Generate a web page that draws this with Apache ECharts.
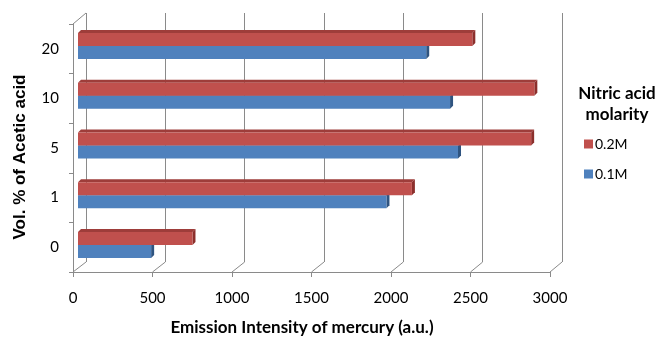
<!DOCTYPE html>
<html>
<head>
<meta charset="utf-8">
<script src="https://cdn.jsdelivr.net/npm/echarts@6/dist/echarts.min.js"></script>
<style>
html,body{margin:0;padding:0;background:#fff;}
#c{width:658px;height:343px;}
</style>
</head>
<body>
<div id="c"></div>
<script>
// ---- data ----
const categories = ['0', '1', '5', '10', '20'];
const seriesNames = ['0.2M', '0.1M'];
const values02M = [720, 2100, 2850, 2870, 2480];
const values01M = [460, 1940, 2390, 2340, 2190];
const xTicks = [0, 500, 1000, 1500, 2000, 2500, 3000];
const xTitle = 'Emission Intensity of mercury (a.u.)';
const yTitle = 'Vol. % of Acetic acid';
const legendTitle = 'Nitric acid\nmolarity';

// ---- style ----
const FONT = 'Lato';
const GRID_COLOR = '#8a8a8a';
const BAR_H = 13;
const DEPTH = 3;
const XMIN = 0, XMAX = 3000, XINT = 500;

const chart = echarts.init(document.getElementById('c'), null, {renderer: 'canvas'});

function makeRender(upper, face, top, side) {
  return function (params, api) {
    const cat = api.value(1), val = api.value(0);
    const p0 = api.coord([0, cat]);
    const p1 = api.coord([val, cat]);
    const yTop = upper ? p0[1] - BAR_H : p0[1];
    const yBot = yTop + BAR_H;
    const x0 = p0[0], x1 = p1[0], d = DEPTH;
    return {
      type: 'group',
      children: [
        {type: 'polygon', shape: {points: [[x0, yTop], [x1, yTop], [x1 + d, yTop - d], [x0 + d, yTop - d]]}, style: {fill: top}},
        {type: 'polygon', shape: {points: [[x1, yTop], [x1 + d, yTop - d], [x1 + d, yBot - d], [x1, yBot]]}, style: {fill: side}},
        {type: 'rect', shape: {x: x0, y: yTop, width: x1 - x0, height: BAR_H}, style: {fill: face}}
      ]
    };
  };
}

const option = {
  animation: false,
  backgroundColor: '#ffffff',
  textStyle: {fontFamily: FONT},
  title: {
    text: legendTitle,
    left: 617, top: 83, textAlign: 'center', padding: 0,
    textStyle: {fontFamily: FONT, fontSize: 17, fontWeight: 'bold', color: '#000', lineHeight: 21}
  },
  legend: {
    data: seriesNames,
    orient: 'vertical',
    left: 584, top: 137, padding: 0,
    itemWidth: 9, itemHeight: 9, itemGap: 16,
    icon: 'rect',
    textStyle: {fontFamily: FONT, fontSize: 14, color: '#000', padding: [0, 0, 0, -3]},
    selectedMode: false
  },
  grid: [
    {left: 86, right: 96, top: 13, bottom: 81},   // back wall
    {left: 73, right: 108, top: 24, bottom: 71},  // front axes
    {left: 78, right: 103, top: 21, bottom: 73}   // bars
  ],
  xAxis: [
    {gridIndex: 0, type: 'value', min: XMIN, max: XMAX, interval: XINT,
     axisLine: {show: false}, axisTick: {show: false}, axisLabel: {show: false},
     splitLine: {show: true, lineStyle: {color: GRID_COLOR, width: 1}}},
    {gridIndex: 1, type: 'value', min: XMIN, max: XMAX, interval: XINT,
     axisLine: {show: true, lineStyle: {color: GRID_COLOR}},
     axisTick: {show: true, length: 5, lineStyle: {color: GRID_COLOR}},
     axisLabel: {show: true, margin: 19, fontSize: 15, color: '#000', fontFamily: FONT,
       formatter: v => String(v)},
     splitLine: {show: false}},
    {gridIndex: 2, type: 'value', min: XMIN, max: XMAX, show: false}
  ],
  yAxis: [
    {gridIndex: 0, type: 'category', data: categories, show: false},
    {gridIndex: 1, type: 'category', data: categories,
     axisLine: {show: true, lineStyle: {color: GRID_COLOR}},
     axisTick: {show: true, length: 4, lineStyle: {color: GRID_COLOR}},
     axisLabel: {margin: 14, fontSize: 15, color: '#000', fontFamily: FONT}},
    {gridIndex: 2, type: 'category', data: categories, show: false}
  ],
  series: [
    {name: seriesNames[0], type: 'custom', xAxisIndex: 2, yAxisIndex: 2, z: 4,
     itemStyle: {color: '#C0504D'},
     renderItem: makeRender(true, '#C0504D', '#9E3D3A', '#8C2F2C'),
     data: values02M.map((v, i) => [v, i]), silent: true},
    {name: seriesNames[1], type: 'custom', xAxisIndex: 2, yAxisIndex: 2, z: 3,
     itemStyle: {color: '#4F81BD'},
     renderItem: makeRender(false, '#4F81BD', '#3E6A9E', '#2F5480'),
     data: values01M.map((v, i) => [v, i]), silent: true}
  ]
};
chart.setOption(option);

// 3-D frame edges: join the front axis ticks to the back wall lines
const g1 = chart.getModel().getComponent('grid', 1).coordinateSystem.getRect();
const g0 = chart.getModel().getComponent('grid', 0).coordinateSystem.getRect();
const gfx = xTicks.map(v => {
  const xf = chart.convertToPixel({xAxisIndex: 1}, v);
  const xb = chart.convertToPixel({xAxisIndex: 0}, v);
  return {type: 'line', silent: true, z: 1,
    shape: {x1: xf, y1: g1.y + g1.height, x2: xb, y2: g0.y + g0.height},
    style: {stroke: GRID_COLOR, lineWidth: 1}};
});
gfx.push({type: 'line', silent: true, z: 1,
  shape: {x1: g1.x, y1: g1.y, x2: g0.x, y2: g0.y},
  style: {stroke: GRID_COLOR, lineWidth: 1}});
// axis titles
gfx.push({type: 'text', silent: true, z: 5, x: 302, y: 328,
  style: {text: xTitle, fontFamily: FONT, fontSize: 17, fontWeight: 'bold', fill: '#000',
    align: 'center', verticalAlign: 'middle'}});
gfx.push({type: 'text', silent: true, z: 5, x: 20, y: 157, rotation: Math.PI / 2,
  style: {text: yTitle, fontFamily: 'Liberation Sans', fontSize: 17, fontWeight: 'bold', fill: '#000',
    align: 'center', verticalAlign: 'middle'}});
chart.setOption({graphic: gfx});
</script>
</body>
</html>
